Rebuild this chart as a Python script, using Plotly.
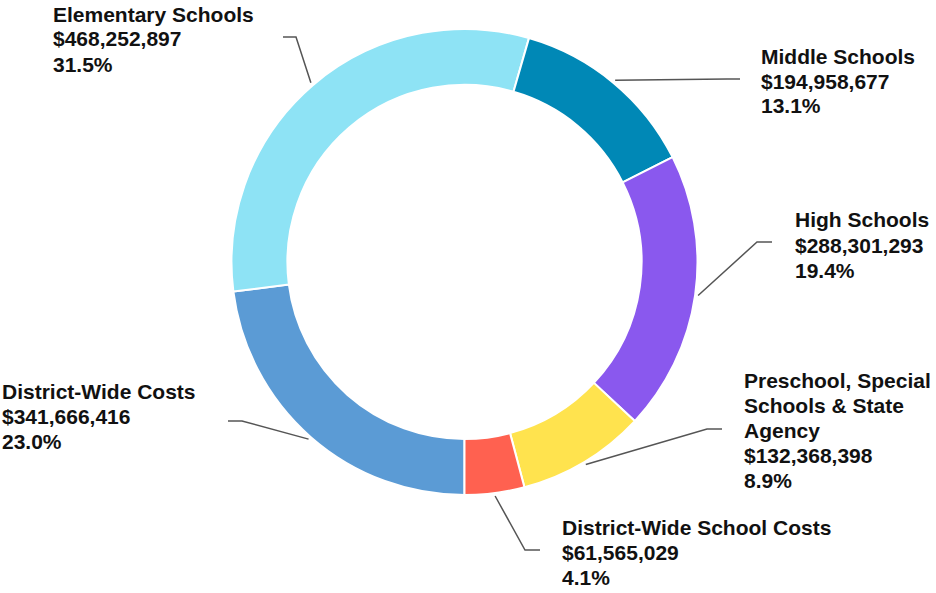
import math
import plotly.graph_objects as go

# Spending by category, in slice order (clockwise from 6 o'clock)
categories = [
    "District-Wide Costs",
    "Elementary Schools",
    "Middle Schools",
    "High Schools",
    "Preschool, Special Schools & State Agency",
    "District-Wide School Costs",
]
name_lines = [
    ["District-Wide Costs"],
    ["Elementary Schools"],
    ["Middle Schools"],
    ["High Schools"],
    ["Preschool, Special", "Schools & State", "Agency"],
    ["District-Wide School Costs"],
]
amounts = [341666416, 468252897, 194958677, 288301293, 132368398, 61565029]
colors = ["#5B9BD5", "#8EE3F5", "#0088B6", "#8A58EE", "#FFE34E", "#FF6150"]

W, H = 936, 593
CX, CY, R = 464.5, 262.0, 233.0   # ring centre and outer radius, px
HOLE = 0.76
FONT_SIZE = 21
LINE_STEP = 25                    # px between label baselines

# Label anchors (left edge, first baseline) and leader-line elbow / end points, px
label_pos = [(3, 398), (54, 21), (762, 63), (796, 227), (745, 387), (563, 534)]
elbows = [(242, 421), (296, 37), (727, 79), (757, 242), (707, 429), (525, 550)]
ends = [(228, 421), (283, 37), (740, 79), (772, 242), (722, 429), (540, 550)]


def px(x):
    return x / W


def py(y):
    return 1 - y / H


fig = go.Figure(
    go.Pie(
        labels=categories,
        values=amounts,
        hole=HOLE,
        sort=False,
        direction="clockwise",
        rotation=180,
        textinfo="none",
        hoverinfo="label+value+percent",
        marker=dict(colors=colors, line=dict(color="white", width=2)),
        domain=dict(x=[px(CX - R), px(CX + R)], y=[py(CY + R), py(CY - R)]),
        showlegend=False,
    )
)

total = sum(amounts)
annotations = []
shapes = []
start = 180.0
for i, v in enumerate(amounts):
    frac = v / total
    mid = start + frac * 360 / 2
    start += frac * 360
    a = math.radians(mid)
    sx = CX + (R + 3) * math.sin(a)
    sy = CY - (R + 3) * math.cos(a)
    ex, ey = elbows[i]
    tx, ty = ends[i]
    shapes.append(
        dict(
            type="path",
            xref="paper",
            yref="paper",
            path=f"M {px(sx)},{py(sy)} L {px(ex)},{py(ey)} L {px(tx)},{py(ty)}",
            line=dict(color="#555555", width=1.5),
        )
    )
    lines = name_lines[i] + [f"${v:,}", f"{frac * 100:.1f}%"]
    lx, ly = label_pos[i]
    for k, line in enumerate(lines):
        base = ly + k * LINE_STEP
        annotations.append(
            dict(
                x=px(lx - 3),
                y=py(base - 7),
                xref="paper",
                yref="paper",
                xanchor="left",
                yanchor="middle",
                align="left",
                showarrow=False,
                text=f"<b>{line}</b>",
                font=dict(family="Liberation Sans, Arial, sans-serif",
                          size=FONT_SIZE, color="#111111"),
            )
        )

fig.update_layout(
    width=W,
    height=H,
    margin=dict(l=0, r=0, t=0, b=0),
    paper_bgcolor="white",
    plot_bgcolor="white",
    annotations=annotations,
    shapes=shapes,
)

fig.write_html("out.html")
